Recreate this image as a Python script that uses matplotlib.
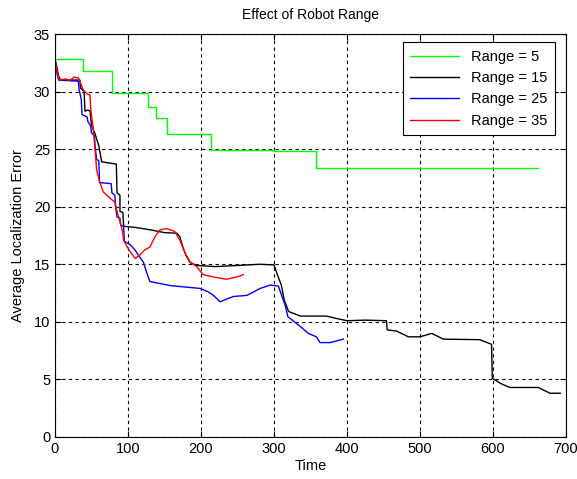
import matplotlib
matplotlib.use("Agg")
import matplotlib.pyplot as plt

plt.rcParams['font.family'] = ['Liberation Sans', 'DejaVu Sans']

title = "Effect of Robot Range"
xlabel = "Time"
ylabel = "Average Localization Error"
xticks = [0, 100, 200, 300, 400, 500, 600, 700]
yticks = [0, 5, 10, 15, 20, 25, 30, 35]

labels = ["Range = 5", "Range = 15", "Range = 25", "Range = 35"]
colors = ["#00ff00", "#000000", "#0000ff", "#ff0000"]

# Range = 5 (piecewise constant)
x_r5 = [0, 39, 78, 128, 139, 154, 214, 300, 358, 662]
y_r5 = [32.8, 31.8, 29.9, 28.7, 27.7, 26.3, 24.95, 24.85, 23.35, 23.35]

# Range = 15
x_r15 = [0, 3, 5, 8, 34, 35, 40, 41, 45, 48, 50, 55, 60, 64, 84, 85, 89, 89, 93,
         94, 110, 130, 150, 167, 171, 175, 180, 185, 194, 220, 250, 280, 300,
         304, 310, 314, 320, 336, 372, 385, 400, 425, 454, 455, 468, 484, 500,
         516, 532, 582, 598, 599, 610, 623, 662, 678, 692]
y_r15 = [32.8, 32.0, 31.3, 31.0, 31.0, 30.3, 30.0, 28.3, 28.4, 28.3, 27.1, 26.3,
         25.3, 23.9, 23.7, 21.2, 21.0, 19.6, 19.5, 18.3, 18.2, 18.0, 17.75, 17.7,
         17.4, 16.5, 15.7, 15.15, 14.9, 14.8, 14.9, 15.0, 14.95, 14.2, 13.2, 11.9,
         10.9, 10.5, 10.5, 10.3, 10.1, 10.15, 10.1, 9.3, 9.2, 8.7, 8.7, 9.0, 8.5,
         8.45, 8.05, 5.1, 4.66, 4.3, 4.3, 3.8, 3.8]

# Range = 25
x_r25 = [0, 3, 5, 32, 33, 36, 37, 44, 45, 49, 50, 54, 55, 57, 60, 61, 77, 78, 82,
         83, 85, 89, 90, 94, 95, 103, 110, 114, 121, 126, 130, 158, 199, 210, 217,
         226, 244, 263, 281, 295, 306, 311, 315, 319, 336, 347, 358, 363, 377, 395]
y_r25 = [32.8, 31.5, 31.0, 30.9, 30.2, 29.3, 28.0, 27.8, 27.4, 27.0, 26.4, 26.2,
         25.2, 24.1, 24.0, 22.1, 22.0, 21.2, 21.0, 20.0, 19.1, 19.0, 18.4, 18.3,
         17.0, 16.7, 16.2, 15.8, 15.2, 14.2, 13.5, 13.15, 12.9, 12.6, 12.3, 11.75,
         12.2, 12.3, 12.9, 13.2, 13.1, 12.2, 11.5, 10.45, 9.6, 9.0, 8.7, 8.2, 8.2,
         8.5]

# Range = 35
x_r35 = [0, 3, 6, 15, 20, 26, 32, 34, 39, 44, 48, 49, 52, 55, 57, 61, 66, 71, 76,
         82, 85, 89, 92, 94, 98, 103, 110, 116, 123, 130, 137, 144, 153, 164, 171,
         178, 185, 194, 203, 217, 235, 249, 258]
y_r35 = [32.8, 31.8, 31.0, 31.1, 30.95, 31.25, 31.2, 30.9, 30.1, 29.8, 29.7, 28.4,
         27.0, 24.9, 23.2, 22.2, 21.3, 21.0, 20.7, 20.4, 19.6, 18.7, 18.0, 17.1,
         16.6, 16.1, 15.5, 15.8, 16.25, 16.5, 17.4, 18.0, 18.1, 17.85, 17.1, 16.0,
         15.2, 14.8, 14.1, 13.9, 13.7, 13.9, 14.1]

fig = plt.figure(figsize=(5.77, 4.79), dpi=100)
ax = fig.add_axes([0.0953, 0.0877, 0.8857, 0.8413])

ax.plot(x_r5, y_r5, drawstyle='steps-post', color=colors[0], lw=1.0, label=labels[0])
ax.plot(x_r15, y_r15, color=colors[1], lw=1.0, label=labels[1])
ax.plot(x_r25, y_r25, color=colors[2], lw=1.0, label=labels[2])
ax.plot(x_r35, y_r35, color=colors[3], lw=1.0, label=labels[3])

ax.set_xlim(0, 700)
ax.set_ylim(0, 35)
ax.set_xticks(xticks)
ax.set_yticks(yticks)
ax.grid(True, color='black', linestyle=(0, (3, 3)), linewidth=0.8)
ax.tick_params(direction='in', top=True, right=True, labelsize=10.5, length=4)
for s in ax.spines.values():
    s.set_color('black')
    s.set_linewidth(0.8)

ax.set_title(title, fontsize=10, pad=11)
ax.set_xlabel(xlabel, fontsize=10.5, labelpad=2)
ax.set_ylabel(ylabel, fontsize=10.5, labelpad=6)

leg = ax.legend(loc='upper right', bbox_to_anchor=(0.978, 0.979), borderaxespad=0,
                fancybox=False, edgecolor='black', framealpha=1, fontsize=10.5,
                handlelength=3.4, labelspacing=0.5, borderpad=0.5)
leg.get_frame().set_linewidth(0.8)

fig.savefig("out.png", dpi=100)
